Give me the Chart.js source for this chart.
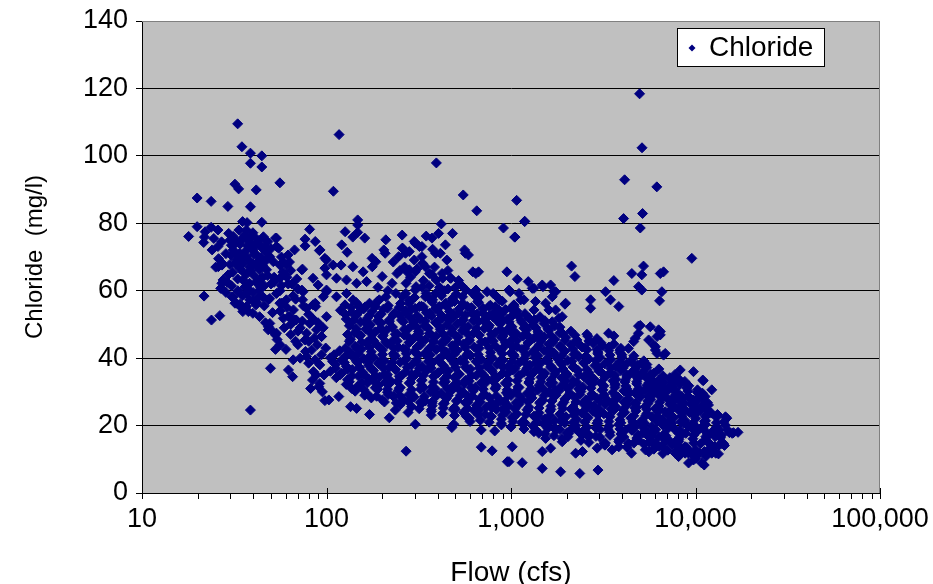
<!DOCTYPE html>
<html><head><meta charset="utf-8">
<script src="https://cdn.jsdelivr.net/npm/chart.js@4.4.0/dist/chart.umd.min.js"></script>
<style>html,body{margin:0;padding:0;background:#fff;}#wrap{width:933px;height:584px;}</style>
</head><body><div id="wrap"><canvas id="c" width="933" height="584"></canvas></div>
<script>
const seriesName = 'Chloride';
const xTitle = 'Flow (cfs)';
const yTitle = 'Chloride  (mg/l)';
const xTickValues = [10, 100, 1000, 10000, 100000];
const yTickValues = [0, 20, 40, 60, 80, 100, 120, 140];

// [flow (cfs), chloride (mg/l)]
const lowFlowSamples = [
[33.0,109.5],[34.8,102.7],[38.7,100.8],[44.6,100.0],[38.7,97.8],[44.6,96.7],[55.9,92.0],[31.9,91.6],[33.4,90.2],[41.6,89.9],
[19.9,87.5],[23.7,86.5],[29.2,85.0],[38.7,84.9],[35.1,80.5],[37.1,80.2],[44.6,80.3],[19.9,79.0],[23.7,78.8],[25.8,78.0],
[17.9,76.1],[21.8,75.9],[21.6,74.3],[25.8,73.1],[24.0,72.1],[81.0,78.2],[76.5,75.3],[76.5,73.3],[86.9,74.6],[91.5,71.9],
[52.9,75.6],[55.0,72.6],[36.8,78.0],[39.9,77.2],[31.2,76.1],[32.5,74.6],[38.3,75.6],[42.5,74.1],[46.3,73.1],[31.2,72.1],
[33.9,71.1],[36.8,70.1],[39.9,72.1],[32.5,69.1],[35.2,68.1],[38.3,67.1],[41.5,67.6],[43.4,66.2],[53.6,75.6],[53.6,73.1],
[49.3,70.1],[51.5,68.6],[55.9,67.6],[67.1,72.1],[61.9,70.6],[58.3,68.6],[60.6,67.6],[59.4,64.7],[55.9,63.7],[47.3,69.1],
[47.3,66.2],[35.2,63.2],[38.3,62.2],[43.4,60.2],[74.2,66.4],[92.2,72.1],[98.0,69.6],[84.5,63.7],[90.1,61.7],[98.0,66.7],
[74.6,59.7],[74.2,57.3],[78.0,54.8],[87.4,55.3],[31.2,58.2],[32.5,56.3],[36.8,59.2],[38.3,57.3],[41.5,55.8],[45.2,58.2],
[49.3,57.7],[53.6,59.2],[55.9,56.3],[60.6,57.3],[66.2,54.3],[63.3,52.3],[58.3,51.8],[68.6,51.3],[49.3,50.3],[53.6,47.4],
[48.3,48.4],[36.8,55.3],[35.2,53.8],[39.9,53.3],[43.4,52.3],[81.1,50.3],[88.3,48.4],[78.0,47.4],[93.9,46.4],[100,52.3],
[100,60.2],[96.1,58.2],[84.5,55.8],[25.9,67.1],[27.5,67.9],[29.3,64.7],[27.5,63.2],[27.0,60.7],[21.7,58.4],[23.8,51.3],
[26.4,52.6],[38.7,24.6],[49.7,37.0],[60.3,42.6],[52.9,42.6],[62.2,36.5],[65.5,34.5],[90.7,31.5],[98.0,27.4],[73.5,66.2],
[27.1,67.6],[25.1,67.0],[27.1,62.2],[26.7,60.7],[30.7,58.2],[31.9,56.3],[34.7,54.9],[37.7,53.8],[42.9,58.2],[48.4,57.3],
[48.4,49.3],[52.9,46.9],[57.2,56.3],[62.2,52.3],[67.5,51.3],[76.5,45.4],[83.0,42.4],[86.9,39.5],[94.1,46.4],[73.5,60.2],
[86.9,56.3],[45,64],[50,62],[56,60],[62,62],[66,58.5],[70,60.5],[47,71.5],[57,70],[64,66],[69,63.5],[42,70.5],[46,61.5],
[52,64],[58,65.5],[63,68.5],[46.7,50.5],[51,48],[54,45.5],[56,44],[59,49],[64,47],[70,44],[72,49],[77,42],[80,38.5],
[85,36],[89,44],[94,41],[97,35],[92,32.5],[84,33.5],[95,30],[78,40.5],
[30.5,73.5],[34,73.8],[37.5,73.2],[41,73.6],[44.5,72.8],[33,70.5],[36.5,71.8],[40.5,70.8],[44,69.8],[30,67.8],[34,66.5],
[37,65],[40.5,64.5],[44,63.5],[48,64.5],[52,62.5],[57,61.5],[61,64],[65,62],[68,57.5],[36,61],[40,59.5],[46,55.5],[51,53.5],
[56,54],[61,55],[64,50],[70,48],[74,51],[75,55.5],[80,53],[85,51.5],[90,50.5],[96,49],[99,43],[92,38],[88,35],[82,31],
[80,45],[86,46],[72,40],[68,45],[66,39.5],[22,77.5],[24.5,75.5],[27,74.5],[28.5,71],[26,69.5],[29.5,77],
[30,75],[32,74],[35,75.5],[38,74.5],[41,75.8],[43,74.8],[30.5,70.5],[32,68],[34.5,69.5],[38,69],[40,68],[42.5,68.5],
[45,67.5],[31,65.5],[33,63.5],[35.5,65.5],[39,66],[41.5,62.5],[44,61],[30.5,61.5],[33,60],[35,58.5],[37.5,60.5],[40,57],
[42,56.5],[34,56],[29,62.5],[28.5,59.5],[33.5,78],[36,76.5],[45.5,76],[48,74.5],[50,72.5]
];

const midFlowSamples = [
[117,106.3],[394,97.9],[109,89.5],[551,88.4],[652,83.7],[910,78.6],[147.6,81.0],[147.6,79.5],[126.2,77.5],[138.8,75.9],
[147.6,77.3],[161.1,75.6],[120.9,73.6],[129.4,71.4],[209.6,75.1],[257.1,76.5],[204.5,72.1],[257.1,72.6],[419,79.8],[405,77.0],
[482,77.0],[347,76.2],[373,75.6],[441,73.6],[376,72.3],[414,71.1],[303,74.1],[329,73.1],[560,72.1],[588,70.6],
[176.6,69.6],[208,71.1],[246,70.1],[268,71.1],[329,70.1],[390,71.1],[449,69.1],[566,71.1],[185,68.6],[177,67.1],
[100,69.1],[108.7,67.6],[120,67.6],[139,67.1],[158,65.6],[100,64.7],[113.3,63.7],[128.4,63.2],[145.6,62.2],[165,62.7],
[200.4,64.2],[226.6,62.2],[241,65.1],[273.6,65.6],[303,65.6],[343.5,67.1],[373.5,64.7],[423,65.1],[469,63.7],[645,65.1],
[667,65.6],[950,65.6],[100,59.7],[113.3,58.2],[128.4,59.2],[139.2,57.3],[151,55.3],[171,56.3],[193.3,57.3],[210,58.2],
[237.7,59.2],[269,59.2],[303,60.2],[343.5,58.2],[390,59.2],[481,56.8],[546,58.2],[620,59.2],[674,58.2],[800,59.2],
[870,57.3],[990,59.7],[299,74.6],[319,73.1],[281,71.6],[259,72.6],[1051,75.9],[1186,80.5],[621,65.6],
[646,60.2],[742,59.7],[820,58.7],[660,56.8],[760,55.3],[862,54.3],[897,51.3],[795,52.3],[706,53.3],[646,58.2],
[482,57.7],[444,56.3],[409,55.3],[376,57.3],[347,59.2],[306,61.2],[270,62.2],[281,66.2],[299,69.1],[332,68.1],
[361,65.1],[393,63.2],[426,63.7],[473,63.7],[570,60.2],[547,56.3],[524,53.3],[463,52.3],[409,51.3],[361,53.3],
[319,55.3],[281,56.3],[259,58.2],[171,23.3],[219,22.3],[303,20.4],[478,19.4],[490,20.4],[270,12.4],[690,13.6],
[790,12.5],[690,18.7],[816,18.4],[955,9.3],[600,21.2],[257,27.1],[236,24.6],[277,23.9],[373,26.6],[370,23.1],
[145.6,25.1],[135,25.6],[116.6,28.6],[103,27.6],
[265,67],[285,64],[310,66.5],[335,63],[360,61.5],[385,67],[410,61],[435,60],[455,66],[500,61],[520,63],[540,61.5],
[300,58],[330,61],[365,57.5],[420,58.5],[455,60.5],[505,59],[230,68.5],[250,66],[215,60],[190,61]
];

const highFlowSamples = [
[4977,118.4],[5130,102.4],[4128,92.9],[6170,90.8],[1073,86.8],[1186,80.6],[1047,75.9],[4076,81.4],[5166,82.9],[5020,78.6],
[9550,69.6],[2130,67.3],[2220,64.2],[1082,63.4],[1240,62.7],[1304,60.7],[1490,61.2],[1640,61.7],[1710,59.7],[1977,56.3],
[1477,61.7],[1332,60.7],[1105,59.2],[1175,57.3],[1038,55.8],[1016,54.3],[1357,56.8],[1332,54.3],[1673,58.2],[1745,59.7],
[975,60.2],[1130,57.3],[1038,55.3],[1541,56.3],[1745,54.3],[1894,52.3],[1357,51.3],[1201,49.3],[1016,47.4],
[1605,54.3],[1819,51.8],[1673,50.8],[1332,51.3],[1960,56],[2700,57.3],[2700,54.8],
[3609,63.0],[3254,59.7],[3463,57.3],[3840,55.3],[4518,65.1],[5227,67.3],[5116,64.7],[4914,61.2],[5116,60.2],
[6713,65.6],[6444,65.1],[6573,59.7],[6386,57.0],[5020,49.7],[5686,49.3],[6310,48.4],[6444,46.9],[5572,45.4],[5929,43.9],
[6061,42.4],[6713,40.9],[6855,41.4],[4715,45.9],[4330,42.9],[3900,42.4],[3380,47.4],[3609,46.6],[8265,36.5],[9750,36.0],
[5116,38.5],[5350,34.5],[5810,33.5],[6061,31.5],[6573,32.5],[7460,31.5],[8420,28.6],[9170,28.6],[9750,26.6],
[4170,18.7],[4715,19.7],[5572,16.7],[6061,14.7],[6855,15.7],[7764,15.2],[8790,13.7],[9170,11.8],[8100,10.8],[9750,9.8],
[975,9.3],[1150,9.0],[1477,7.3],[1857,6.3],[2360,5.8],[2960,6.8],[1016,13.7],[1477,12.3],[1640,13.3],[2240,11.8],[2440,12.3],
[1417,17.7],[1541,16.2],[1894,15.2],[2060,17.7],[2640,16.7],[2930,13.3],[3250,14.8],[3530,12.8],[3840,13.7],
[11010,33.3],[12250,30.6],[10250,30.6],[10910,29.6],[10040,27.6],[10040,23.6],[11610,23.3],[14540,22.6],[14250,21.1],[15800,17.7],
[13430,18.7],[12360,18.2],[10910,19.7],[11370,16.7],[13430,14.2],[12360,12.8],[11370,10.8],[10470,11.8],[11150,8.3],[10040,10.3],
[12880,11.8],[17000,18.0],[16060,17.9],[4910,49.5],[6444,47.9],[6190,46.4],[4910,47.4],[4625,44.9],[6061,43.4],[6190,41.4],
[14780,22.2],[11510,23.1],[10950,33.5],[4810,34.5],[6713,33.0],[7460,31.0],[4170,33.5],[3680,32.0],[4330,30.0],[4910,29.6],
[5572,28.6],[6310,29.6],[7160,27.6],[8100,27.6],[10380,30.1],[11280,28.6],[9950,25.6],[8790,24.6],[7764,25.6],[6855,24.1],
[6061,25.1],[5350,25.6],[4715,26.6],[4170,27.1],[3680,27.6],[7440,20.7],[8100,17.7],[9170,19.7],[10380,18.7],[11280,15.7],
[12770,16.7],[13860,14.7],[12250,11.8],[10800,8.9],[9950,10.8],[8790,11.8],[8100,13.7],[7160,15.7],[6310,16.7],[5572,17.7],
[4910,15.7],[4330,14.7],[4500,11.8],[5350,12.8],[6061,13.7],[6855,12.8],[7764,11.8],[9170,8.9]
];

const coreSamples = [
[126,55.8],[145,56.5],[162,55.2],[189,56.9],[216,55.6],[252,56.2],[281,57.0],[327,55.4],[375,56.6],[435,55.9],[494,56.8],[580,55.3],[667,56.4],[773,55.7],[897,56.9],[1025,55.5],
[119,54.2],[137,53.6],[155,54.8],[177,53.9],[203,54.5],[233,53.3],[268,54.1],[303,54.7],[348,53.5],[399,54.3],[464,53.8],[532,54.9],[610,53.4],[707,54.6],[812,53.7],[935,54.4],[1078,53.9],
[128,51.6],[145,52.7],[167,51.9],[191,52.4],[219,51.3],[249,52.8],[285,52.0],[323,51.5],[370,52.6],[424,51.8],[487,52.3],[552,51.4],[632,52.9],[724,51.7],[833,52.2],[954,51.5],[1091,52.6],[1252,51.9],[1435,52.3],
[133,49.6],[153,50.7],[173,49.9],[198,50.4],[227,49.3],[261,50.8],[296,50.0],[339,49.5],[389,50.6],[447,49.8],[512,50.3],[585,49.4],[666,50.9],[763,49.7],[876,50.2],[1000,49.5],[1147,50.6],[1315,49.9],[1509,50.3],[1729,49.6],
[142,47.5],[163,48.6],[184,47.8],[211,48.3],[242,47.2],[278,48.7],[315,47.9],[361,47.4],[414,48.5],[475,47.7],[544,48.2],[625,47.3],[717,48.8],[822,47.6],[944,48.1],[1064,47.4],[1221,48.5],[1400,47.8],[1605,48.2],[1842,47.5],[2113,48.0],
[135,45.6],[153,46.7],[175,45.9],[201,46.4],[230,45.3],[264,46.8],[299,46.0],[343,45.5],[394,46.6],[451,45.8],[518,46.3],[594,45.4],[672,46.9],[774,45.7],[887,46.2],[1012,45.5],[1161,46.6],[1332,45.9],[1509,46.3],[1729,45.6],[1984,46.1],[2276,45.4],[2611,46.5],[2922,45.8],
[143,43.5],[165,44.6],[189,43.8],[214,44.3],[245,43.2],[281,44.7],[323,43.9],[370,43.4],[419,44.5],[481,43.7],[552,44.2],[632,43.3],[724,44.8],[822,43.6],[944,44.1],[1078,43.4],[1236,44.5],[1417,43.8],[1605,44.2],[1842,43.5],[2113,44.0],[2425,43.3],[2780,44.4],[3150,43.7],[3609,44.2],
[118,42.2],[135,41.6],[155,42.7],[175,41.9],[201,42.4],[230,41.3],[261,42.8],[299,42.0],[343,41.5],[394,42.6],[447,41.8],[512,42.3],[585,41.4],[672,42.9],[774,41.7],[876,42.2],[1000,41.5],[1147,42.6],[1315,41.9],[1509,42.3],[1709,41.6],[1959,42.1],[2248,41.4],[2579,42.5],[2957,41.8],[3394,42.3],[3893,41.7],
[105,40.1],[121,39.5],[138,40.6],[159,39.8],[180,40.3],[206,39.2],[236,40.7],[271,39.9],[307,39.4],[352,40.5],[404,39.7],[464,40.2],[532,39.3],[603,40.8],[691,39.6],[791,40.1],[906,39.4],[1038,40.5],[1176,39.8],[1348,40.2],[1546,39.5],[1775,40.0],[2034,39.3],[2333,40.4],[2643,39.7],[3036,40.2],[3479,39.6],[3989,40.3],[4574,39.8],
[112,38.2],[128,37.6],[147,38.7],[169,37.9],[191,38.4],[219,37.3],[251,38.8],[289,38.0],[330,37.5],[374,38.6],[430,37.8],[493,38.3],[566,37.4],[649,38.9],[735,37.7],[843,38.2],[966,37.5],[1105,38.6],[1267,37.9],[1435,38.3],[1646,37.6],[1888,38.1],[2166,37.4],[2484,38.5],[2848,37.8],[3226,38.3],[3702,37.7],[4245,38.4],[4871,37.9],[5450,38.1],
[105,36.1],[121,35.5],[138,36.6],[157,35.8],[180,36.3],[206,35.2],[236,36.7],[268,35.9],[307,35.4],[352,36.5],[404,35.7],[457,36.2],[524,35.3],[603,36.8],[691,35.6],[791,36.1],[898,35.4],[1024,36.5],[1176,35.8],[1348,36.2],[1527,35.5],[1751,36.0],[2009,35.3],[2304,36.4],[2643,35.7],[2990,36.2],[3437,35.6],[3941,36.3],[4519,35.8],[5180,36.0],[5943,35.5],
[113,34.2],[130,33.6],[149,34.7],[169,33.9],[194,34.4],[222,33.3],[255,34.8],[289,34.0],[330,33.5],[380,34.6],[435,33.8],[494,34.3],[566,33.4],[649,34.9],[745,33.7],[843,34.2],[966,33.5],[1105,34.6],[1267,33.9],[1453,34.3],[1646,33.6],[1888,34.1],[2166,33.4],[2484,34.5],[2813,33.8],[3226,34.3],[3702,33.7],[4245,34.4],[4871,33.9],[5518,34.1],[6329,33.6],[7260,34.2],[8123,33.8],
[128,32.2],[147,31.6],[167,32.7],[191,31.9],[219,32.4],[251,31.3],[285,32.8],[327,32.0],[375,31.5],[430,32.6],[487,31.8],[559,32.3],[642,31.4],[735,32.9],[833,31.7],[954,32.2],[1091,31.5],[1251,32.6],[1417,31.9],[1626,32.3],[1865,31.6],[2138,32.1],[2452,31.4],[2780,32.5],[3188,31.8],[3655,32.3],[4194,31.7],[4808,32.4],[5450,31.9],[6251,32.1],[7170,31.6],[8229,32.2],[9200,31.8],
[143,30.2],[165,29.6],[189,30.7],[214,29.9],[245,30.4],[281,29.3],[323,30.8],[366,30.0],[419,29.5],[481,30.6],[552,29.8],[625,30.3],[717,29.4],[822,30.9],[944,29.7],[1064,30.2],[1221,29.5],[1400,30.6],[1605,29.9],[1818,30.3],[2085,29.6],[2393,30.1],[2745,29.4],[3111,30.5],[3566,29.8],[4088,30.3],[4690,29.7],[5314,30.4],[6097,29.9],[6993,30.1],[8024,29.6],[9090,30.2],[10250,29.8],
[175,28.2],[201,27.6],[230,28.7],[261,27.9],[299,28.4],[343,27.3],[394,28.8],[447,28.0],[512,27.5],[585,28.6],[672,27.8],[763,28.3],[876,27.4],[1000,28.9],[1147,27.7],[1299,28.2],[1490,27.5],[1709,28.6],[1959,27.9],[2220,28.3],[2547,27.6],[2922,28.1],[3350,27.4],[3795,28.5],[4354,27.8],[4995,28.3],[5731,27.7],[6492,28.4],[7446,27.9],[8540,28.1],[9680,27.6],[10910,28.2],
[251,26.2],[289,25.6],[330,26.7],[374,25.9],[430,26.4],[493,25.3],[566,26.8],[649,26.0],[735,25.5],[843,26.6],[966,25.8],[1105,26.3],[1251,25.4],[1435,26.9],[1646,25.7],[1888,26.2],[2166,25.5],[2452,26.6],[2813,25.9],[3226,26.3],[3702,25.6],[4245,26.1],[4808,25.4],[5518,26.5],[6329,25.8],[7260,26.3],[8332,25.7],[9440,26.4],[10780,25.9],[11760,26.1],
[370,24.2],[426,23.6],[487,24.7],[552,23.9],[632,24.4],[724,23.3],[833,24.8],[944,24.0],[1078,23.5],[1236,24.6],[1417,23.8],[1626,24.3],[1842,23.4],[2113,24.9],[2425,23.7],[2780,24.2],[3188,23.5],[3609,24.6],[4140,23.9],[4752,24.3],[5450,23.6],[6251,24.1],[7082,23.4],[8123,24.5],[9320,23.8],[10640,24.3],[12200,23.7],
[594,22.2],[682,21.6],[783,22.7],[887,21.9],[1012,22.4],[1161,21.3],[1332,22.8],[1527,22.0],[1729,21.5],[1984,22.6],[2276,21.8],[2611,22.3],[2957,21.4],[3394,22.9],[3893,21.7],[4465,22.2],[5120,21.5],[5803,22.6],[6655,21.9],[7633,22.3],[8753,21.6],[10040,22.1],[11330,21.4],[12990,22.5],
[887,20.2],[1000,19.6],[1147,20.7],[1315,19.9],[1509,20.4],[1729,19.3],[1959,20.8],[2248,20.0],[2579,19.5],[2957,20.6],[3394,19.8],[3841,20.3],[4405,19.4],[5058,20.9],[5803,19.7],[6655,20.2],[7540,19.5],[8650,20.6],[9917,19.9],[11330,20.3],[12990,19.6],[14530,20.1],
[1332,18.2],[1527,17.6],[1751,18.7],[2009,17.9],[2304,18.4],[2643,17.3],[3036,18.8],[3437,18.0],[3941,17.5],[4519,18.6],[5180,17.8],[5943,18.3],[6735,17.4],[7726,18.9],[8860,17.7],[10120,18.2],[11610,17.5],[13320,18.6],[15270,17.9],
[1888,16.2],[2393,15.6],[3036,16.5],[3841,15.8],[4808,16.3],[5731,15.4],[6820,16.6],[8123,15.9],[9680,16.1],[11470,15.5],[13660,16.4],
[3226,14.2],[4245,13.6],[5245,14.5],[6329,13.9],[7540,14.3],[8980,13.5],[10640,14.6],[12670,13.8],[14350,14.1],
[5590,12.2],[6655,11.7],[7922,12.4],[9440,11.9],[11190,12.3],[13320,11.6]
];

const coreSamplesB = [
[136,55.0],[159,54.6],[184,55.3],[214,54.8],[248,55.1],[289,54.5],[335,55.2],[389,54.7],[451,55.4],[524,54.6],[610,55.0],[707,54.7],[822,55.3],
[127,52.9],[147,53.2],[171,52.7],[198,53.1],[230,52.8],[268,53.3],[310,52.6],[361,53.0],[419,52.7],[487,53.2],[566,52.8],[655,53.1],[762,52.6],[887,53.0],[1025,52.8],[1190,53.2],
[140,51.2],[162,50.7],[189,51.1],[219,50.8],[255,51.3],[296,50.6],[343,51.0],[398,50.7],[464,51.2],[538,50.8],[625,51.1],[724,50.6],[843,51.0],[977,50.8],[1133,51.2],[1315,50.7],[1527,51.1],
[145,48.7],[169,49.2],[196,48.8],[227,49.1],[264,48.6],[307,49.3],[356,48.9],[414,49.0],[481,48.7],[559,49.2],[649,48.8],[754,49.1],[876,48.6],[1012,49.3],[1176,48.9],[1365,49.0],[1585,48.7],[1842,49.2],
[130,47.0],[151,46.7],[175,47.2],[203,46.8],[236,47.1],[274,46.6],[318,47.3],[370,46.9],[430,47.0],[499,46.7],[580,47.2],[673,46.8],[783,47.1],[906,46.6],[1051,47.3],[1221,46.9],[1417,47.0],[1646,46.7],[1911,47.2],[2220,46.8],[2579,47.1],
[133,45.0],[155,44.7],[180,45.2],[209,44.8],[242,45.1],[281,44.6],[327,45.3],[380,44.9],[441,45.0],[512,44.7],[594,45.2],[691,44.8],[802,45.1],[932,44.6],[1078,45.3],[1251,44.9],[1453,45.0],[1688,44.7],[1959,45.2],[2276,44.8],[2643,45.1],[3071,44.6],
[127,43.0],[147,42.7],[171,43.2],[198,42.8],[230,43.1],[268,42.6],[310,43.3],[361,42.9],[419,43.0],[487,42.7],[566,43.2],[655,42.8],[762,43.1],[887,42.6],[1025,43.3],[1190,42.9],[1383,43.0],[1605,42.7],[1865,43.2],[2166,42.8],[2514,43.1],[2922,42.6],[3394,43.3],[3941,42.9],
[110,41.0],[128,40.7],[149,41.2],[173,40.8],[201,41.1],[233,40.6],[271,41.3],[315,40.9],[366,41.0],[426,40.7],[494,41.2],[573,40.8],[664,41.1],[774,40.6],[898,41.3],[1038,40.9],[1205,41.0],[1400,40.7],[1626,41.2],[1888,40.8],[2193,41.1],[2547,40.6],[2957,41.3],[3437,40.9],[3989,41.0],[4630,40.7],
[108,39.0],[125,38.7],[145,39.2],[169,38.8],[196,39.1],[227,38.6],[264,39.3],[307,38.9],[356,39.0],[414,38.7],[481,39.2],[559,38.8],[649,39.1],[754,38.6],[876,39.3],[1012,38.9],[1176,39.0],[1365,38.7],[1585,39.2],[1842,38.8],[2138,39.1],[2484,38.6],[2884,39.3],[3350,38.9],[3893,39.0],[4519,38.7],[5245,39.2],
[112,37.0],[130,36.7],[151,37.2],[175,36.8],[203,37.1],[236,36.6],[274,37.3],[318,36.9],[370,37.0],[430,36.7],[499,37.2],[580,36.8],[673,37.1],[783,36.6],[906,37.3],[1051,36.9],[1221,37.0],[1417,36.7],[1646,37.2],[1911,36.8],[2220,37.1],[2579,36.6],[2990,37.3],[3479,36.9],[4043,37.0],[4690,36.7],[5450,37.2],[6329,36.8],
[118,35.0],[137,34.7],[159,35.2],[184,34.8],[214,35.1],[248,34.6],[289,35.3],[335,34.9],[389,35.0],[451,34.7],[524,35.2],[610,34.8],[707,35.1],[822,34.6],[954,35.3],[1105,34.9],[1283,35.0],[1490,34.7],[1729,35.2],[2009,34.8],[2333,35.1],[2711,34.6],[3150,35.3],[3655,34.9],[4245,35.0],[4933,34.7],[5731,35.2],[6655,34.8],[7726,35.1],
[133,33.0],[155,32.7],[180,33.2],[209,32.8],[242,33.1],[281,32.6],[327,33.3],[380,32.9],[441,33.0],[512,32.7],[594,33.2],[691,32.8],[802,33.1],[932,32.6],[1078,33.3],[1251,32.9],[1453,33.0],[1688,32.7],[1959,33.2],[2276,32.8],[2643,33.1],[3071,32.6],[3566,33.3],[4140,32.9],[4808,33.0],[5590,32.7],[6492,33.2],[7540,32.8],[8753,33.1],
[137,31.0],[159,30.7],[184,31.2],[214,30.8],[248,31.1],[289,30.6],[335,31.3],[389,30.9],[451,31.0],[524,30.7],[610,31.2],[707,30.8],[822,31.1],[954,30.6],[1105,31.3],[1283,30.9],[1490,31.0],[1729,30.7],[2009,31.2],[2333,30.8],[2711,31.1],[3150,30.6],[3655,31.3],[4245,30.9],[4933,31.0],[5731,30.7],[6655,31.2],[7726,30.8],[8980,31.1],
[161,29.0],[187,28.7],[216,29.2],[251,28.8],[292,29.1],[339,28.6],[394,29.3],[457,28.9],[532,29.0],[617,28.7],[717,29.2],[833,28.8],[966,29.1],[1119,28.6],[1299,29.3],[1509,28.9],[1751,29.0],[2034,28.7],[2362,29.2],[2745,28.8],[3188,29.1],[3702,28.6],[4300,29.3],[4995,28.9],[5803,29.0],[6735,28.7],[7826,29.2],[9090,28.8],[10510,29.1],
[206,27.0],[239,26.7],[278,27.2],[323,26.8],[375,27.1],[435,26.6],[506,27.3],[585,26.9],[682,27.0],[791,26.7],[920,27.2],[1064,26.8],[1236,27.1],[1435,26.6],[1667,27.3],[1935,26.9],[2248,27.0],[2611,26.7],[3036,27.2],[3525,26.8],[4088,27.1],[4752,26.6],[5518,27.3],[6413,26.9],[7446,27.0],[8650,26.7],[10040,27.2],[11610,26.8],
[318,25.0],[370,24.7],[430,25.2],[499,24.8],[580,25.1],[673,24.6],[783,25.3],[906,24.9],[1051,25.0],[1221,24.7],[1417,25.2],[1646,24.8],[1911,25.1],[2220,24.6],[2579,25.3],[2990,24.9],[3479,25.0],[4043,24.7],[4690,25.2],[5450,24.8],[6329,25.1],[7355,24.6],[8540,25.3],[9917,24.9],[11470,25.0],
[494,23.0],[573,22.7],[664,23.2],[774,22.8],[898,23.1],[1038,22.6],[1205,23.3],[1400,22.9],[1626,23.0],[1888,22.7],[2193,23.2],[2547,22.8],[2957,23.1],[3437,22.6],[3989,23.3],[4630,22.9],[5383,23.0],[6251,22.7],[7260,23.2],[8436,22.8],[9800,23.1],[11330,22.6],[13150,23.3],
[762,21.0],[887,20.7],[1025,21.2],[1190,20.8],[1383,21.1],[1605,20.6],[1865,21.3],[2166,20.9],[2514,21.0],[2922,20.7],[3394,21.2],[3941,20.8],[4574,21.1],[5314,20.6],[6172,21.3],[7170,20.9],[8332,21.0],[9680,20.7],[11190,21.2],[12990,20.8],
[1176,19.0],[1365,18.7],[1585,19.2],[1842,18.8],[2138,19.1],[2484,18.6],[2884,19.3],[3350,18.9],[3893,19.0],[4519,18.7],[5245,19.2],[6097,18.8],[7082,19.1],[8229,18.6],[9560,19.3],[11050,18.9],[12830,19.0],[14900,18.7],
[1709,17.0],[2034,16.7],[2425,17.2],[2884,16.8],[3437,17.1],[4088,16.6],[4871,17.3],[5803,16.9],[6910,17.0],[8229,16.7],[9800,17.2],[11610,16.8],[13820,17.1],
[2643,15.0],[3188,14.7],[3841,15.2],[4630,14.8],[5590,15.1],[6735,14.6],[8123,15.3],[9800,14.9],[11760,15.0],[14180,14.7],
[5943,13.0],[7082,12.7],[8436,13.2],[10000,12.8],[11900,13.1]
];

const points = [...lowFlowSamples, ...midFlowSamples, ...highFlowSamples, ...coreSamples, ...coreSamplesB]
  .map(([f, c]) => ({x: f, y: c}));

const FONT = '"Liberation Sans", Arial, sans-serif';
const NAVY = '#000080';
const minorTicks = [];
xTickValues.slice(0, -1).forEach(d => { for (let m = 2; m <= 9; m++) minorTicks.push(d * m); });

const excelLook = {
  id: 'excelLook',
  beforeDraw(chart) {
    const {ctx, chartArea: a} = chart;
    ctx.save();
    ctx.fillStyle = '#C0C0C0';
    ctx.fillRect(a.left, a.top, a.right - a.left, a.bottom - a.top);
    ctx.restore();
  },
  beforeDatasetsDraw(chart) {
    const {ctx, chartArea: a, scales: {x}} = chart;
    ctx.save();
    ctx.strokeStyle = '#808080';
    ctx.lineWidth = 1;
    ctx.beginPath();
    ctx.moveTo(a.left, a.top + 0.5);
    ctx.lineTo(a.right - 0.5, a.top + 0.5);
    ctx.lineTo(a.right - 0.5, a.bottom);
    ctx.stroke();
    ctx.strokeStyle = '#000';
    ctx.beginPath();
    xTickValues.forEach(v => {
      const px = Math.round(x.getPixelForValue(v)) + 0.5;
      ctx.moveTo(px, a.bottom - 5); ctx.lineTo(px, a.bottom + 6);
    });
    minorTicks.forEach(v => {
      const px = Math.round(x.getPixelForValue(v)) + 0.5;
      ctx.moveTo(px, a.bottom); ctx.lineTo(px, a.bottom + 6);
    });
    ctx.stroke();
    ctx.restore();
  },
  afterDraw(chart) {
    const {ctx, chartArea: a} = chart;
    const bx = a.right - 203, by = a.top + 7, bw = 147, bh = 38;
    ctx.save();
    ctx.fillStyle = '#fff';
    ctx.fillRect(bx, by, bw, bh);
    ctx.strokeStyle = '#000';
    ctx.lineWidth = 1;
    ctx.strokeRect(bx + 0.5, by + 0.5, bw, bh);
    const mx = bx + 15, my = by + 20, r = 3.5;
    ctx.fillStyle = NAVY;
    ctx.beginPath();
    ctx.moveTo(mx - r, my); ctx.lineTo(mx, my - r); ctx.lineTo(mx + r, my); ctx.lineTo(mx, my + r);
    ctx.closePath(); ctx.fill();
    ctx.fillStyle = '#000';
    ctx.font = '28px ' + FONT;
    ctx.textBaseline = 'middle';
    ctx.textAlign = 'left';
    ctx.fillText(seriesName, bx + 32, by + 20);
    ctx.restore();
  }
};

const zeroPad = s => { s.paddingLeft = 0; s.paddingRight = 0; s.paddingTop = 0; s.paddingBottom = 0; };

new Chart(document.getElementById('c'), {
  type: 'scatter',
  data: {datasets: [{
    label: seriesName, data: points, pointStyle: 'rectRot', pointRadius: 5, pointHoverRadius: 5,
    pointBorderWidth: 1, backgroundColor: NAVY, borderColor: NAVY
  }]},
  options: {
    responsive: false, animation: false, events: [],
    layout: {padding: {top: 21, right: 53, left: 0, bottom: 0}},
    plugins: {legend: {display: false}, tooltip: {enabled: false}},
    scales: {
      x: {
        type: 'logarithmic', position: 'bottom', min: 10, max: 100000,
        afterBuildTicks: s => { s.ticks = xTickValues.map(v => ({value: v})); },
        afterFit: s => { s.height = 91; zeroPad(s); },
        ticks: {autoSkip: false, maxRotation: 0, padding: 10, color: '#000', font: {family: FONT, size: 27},
          callback: v => Number(v).toLocaleString('en-US')},
        grid: {display: false, drawTicks: false},
        border: {display: true, color: '#000', width: 1},
        title: {display: true, text: xTitle, color: '#000', font: {family: FONT, size: 28, lineHeight: 0.8}, padding: {top: 0, bottom: 0}}
      },
      y: {
        min: 0, max: 140,
        afterBuildTicks: s => { s.ticks = yTickValues.map(v => ({value: v})); },
        afterFit: s => { s.width = 142; zeroPad(s); },
        ticks: {padding: 8, color: '#000', font: {family: FONT, size: 27}},
        grid: {color: c => (c.tick && c.tick.value === 140) ? '#808080' : '#000', tickColor: '#000', tickLength: 6, drawTicks: true, lineWidth: 1},
        border: {display: true, color: '#000', width: 1},
        title: {display: true, text: yTitle, color: '#000', font: {family: FONT, size: 24, lineHeight: 1}, padding: {top: 23, bottom: 0}}
      }
    }
  },
  plugins: [excelLook]
});
</script></body></html>
